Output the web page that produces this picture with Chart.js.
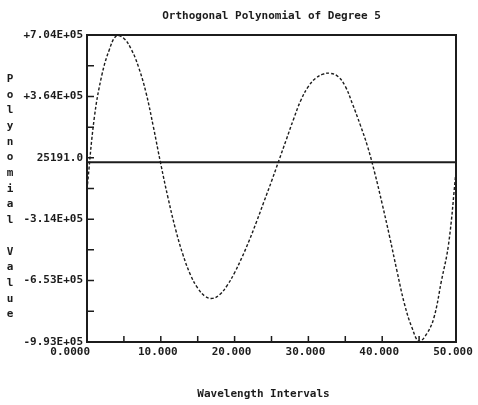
<!DOCTYPE html>
<html>
<head>
<meta charset="utf-8">
<script src="https://cdn.jsdelivr.net/npm/chart.js@4.4.1/dist/chart.umd.min.js"></script>
<style>
  body { margin: 0; background: #fff; }
  canvas { display: block; }
</style>
</head>
<body>
<canvas id="polyChart" width="478" height="405"></canvas>
<script>
const chartTitle = 'Orthogonal Polynomial of Degree 5';
const xTitle = 'Wavelength Intervals';
const yTitle = 'Polynomial Value';

// wavelength interval index, 0..50
const wavelength = [
    0, 1, 2, 3, 4, 5, 6, 7, 8, 9,
    10, 11, 12, 13, 14, 15, 16, 17, 18, 19,
    20, 21, 22, 23, 24, 25, 26, 27, 28, 29,
    30, 31, 32, 33, 34, 35, 36, 37, 38, 39,
    40, 41, 42, 43, 44, 45, 46, 47, 48, 49,
    50
];
// values
const polyValue = [
    -150000, 250000, 480000, 620000, 700000, 685000, 625000, 525000, 385000, 195000,
    -10000, -200000, -370000, -510000, -620000, -695000, -740000, -752000, -730000, -680000,
    -610000, -525000, -430000, -325000, -215000, -105000, 10000, 125000, 240000, 345000,
    420000, 465000, 488000, 492000, 475000, 420000, 320000, 210000, 90000, -60000,
    -230000, -410000, -600000, -780000, -910000, -990000, -950000, -860000, -660000, -450000,
    -50000
];

const yTicks = [-993000, -653000, -314000, 25191, 364000, 704000];
const yTickLabels = ['-9.93E+05', '-6.53E+05', '-3.14E+05', '25191.0', '+3.64E+05', '+7.04E+05'];
const xTicks = [0, 10, 20, 30, 40, 50];
const xTickLabels = ['0.0000', '10.000', '20.000', '30.000', '40.000', '50.000'];

const ink = '#1c1c1c';
const font = 'bold 11px "DejaVu Sans Mono", "Liberation Mono", monospace';

// frame, zero line, inward ticks and the texts, like the old plotter did
const printout = {
    id: 'printout',
    afterDraw(chart) {
        const { ctx, chartArea: a, scales: { x, y } } = chart;
        ctx.save();
        ctx.strokeStyle = ink;
        ctx.fillStyle = ink;

        ctx.lineWidth = 2;
        ctx.strokeRect(a.left, a.top, a.right - a.left, a.bottom - a.top);

        const y0 = y.getPixelForValue(0);
        ctx.beginPath();
        ctx.moveTo(a.left, y0);
        ctx.lineTo(a.right, y0);
        ctx.stroke();

        // y ticks: labelled ones plus a half step between
        ctx.lineWidth = 1.5;
        ctx.beginPath();
        yTicks.forEach((v, i) => {
            const py = y.getPixelForValue(v);
            ctx.moveTo(a.left, py);
            ctx.lineTo(a.left + 7, py);
            if (i < yTicks.length - 1) {
                const pm = y.getPixelForValue((v + yTicks[i + 1]) / 2);
                ctx.moveTo(a.left, pm);
                ctx.lineTo(a.left + 7, pm);
            }
        });
        // x ticks every 5 intervals
        for (let v = 5; v < 50; v += 5) {
            const px = x.getPixelForValue(v);
            ctx.moveTo(px, a.bottom);
            ctx.lineTo(px, a.bottom - 6);
        }
        ctx.stroke();

        ctx.font = font;
        ctx.textBaseline = 'middle';
        xTicks.forEach((v, i) => {
            const px = x.getPixelForValue(v);
            if (i === 0) {
                ctx.textAlign = 'right';
                ctx.fillText(xTickLabels[i], px + 3, a.bottom + 10);
            } else {
                ctx.textAlign = 'center';
                ctx.fillText(xTickLabels[i], px - 3, a.bottom + 10);
            }
        });

        ctx.textAlign = 'center';
        ctx.fillText(chartTitle, (a.left + a.right) / 2, 16);
        ctx.fillText(xTitle, (a.left + a.right) / 2 - 8, 394);

        // y title stacked one letter under the other
        yTitle.split('').forEach((ch, i) => {
            ctx.fillText(ch, 10, 79 + i * 15.7);
        });
        ctx.restore();
    }
};

new Chart(document.getElementById('polyChart').getContext('2d'), {
    type: 'line',
    data: {
        datasets: [{
            data: wavelength.map((w, i) => ({ x: w, y: polyValue[i] })),
            borderColor: ink,
            borderWidth: 1.4,
            borderDash: [3, 2],
            pointRadius: 0,
            tension: 0.4,
            fill: false
        }]
    },
    options: {
        responsive: false,
        animation: false,
        layout: { padding: { left: 0, right: 22, top: 35, bottom: 0 } },
        plugins: {
            legend: { display: false },
            tooltip: { enabled: false }
        },
        scales: {
            x: {
                type: 'linear',
                min: 0,
                max: 50,
                grid: { display: false },
                border: { display: false },
                ticks: { display: false },
                afterFit(scale) { scale.height = 63; }
            },
            y: {
                type: 'linear',
                min: -993000,
                max: 704000,
                grid: { display: false, drawTicks: false },
                border: { display: false },
                afterBuildTicks(scale) {
                    scale.ticks = yTicks.map(v => ({ value: v }));
                },
                ticks: {
                    padding: 4,
                    color: ink,
                    font: { family: '"DejaVu Sans Mono", "Liberation Mono", monospace', size: 11, weight: 'bold' },
                    callback: (v) => yTickLabels[yTicks.indexOf(v)]
                },
                afterFit(scale) { scale.width = 87; }
            }
        }
    },
    plugins: [printout]
});
</script>
</body>
</html>
